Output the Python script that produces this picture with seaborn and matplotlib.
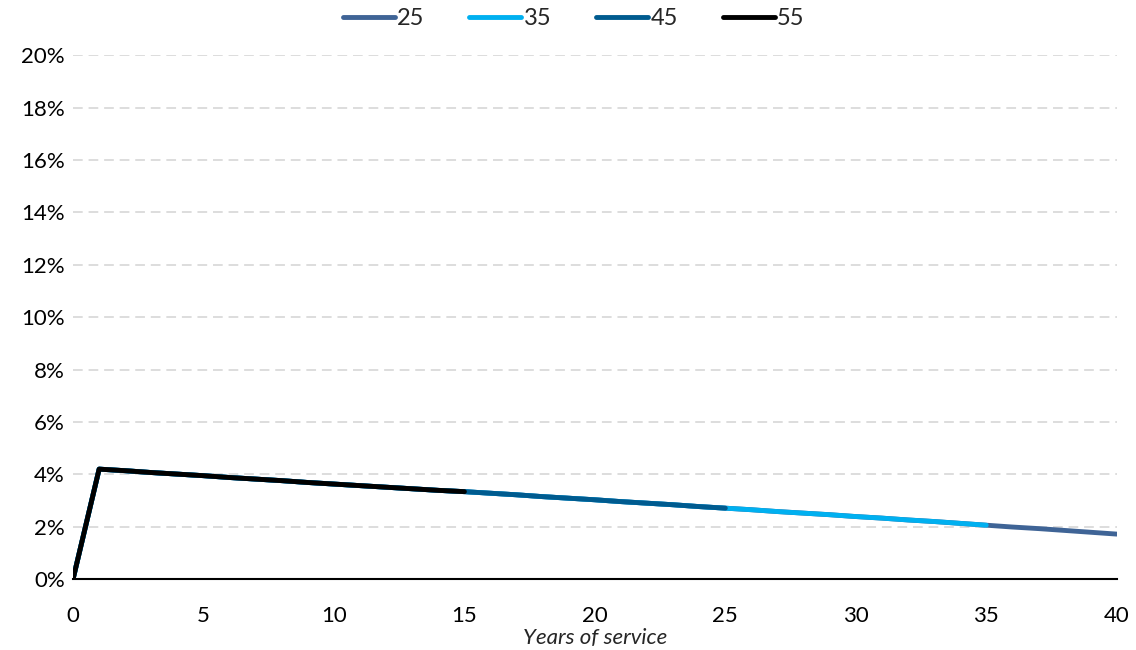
import matplotlib.pyplot as plt
import matplotlib.ticker as mtick
import pandas as pd
import seaborn as sns

# Years of service and the rate for each entry age
YEARS = list(range(0, 41))
RATE = [0.00, 4.20, 4.14, 4.07, 4.01, 3.95, 3.88, 3.82, 3.76, 3.69,
        3.63, 3.57, 3.51, 3.45, 3.39, 3.34, 3.28, 3.22, 3.15, 3.09,
        3.03, 2.96, 2.90, 2.84, 2.77, 2.71, 2.65, 2.58, 2.52, 2.46,
        2.39, 2.33, 2.26, 2.20, 2.13, 2.06, 1.99, 1.93, 1.86, 1.79, 1.72]
AGES = ['25', '35', '45', '55']
LAST_YEAR = [40, 35, 25, 15]
COLOURS = ['#3F6496', '#00B0F0', '#005B8F', '#000000']

rows = []
for age, last in zip(AGES, LAST_YEAR):
    for year, rate in zip(YEARS[:last + 1], RATE[:last + 1]):
        rows.append({'year': year, 'rate': rate / 100, 'age': age})
data = pd.DataFrame(rows)

sns.set_theme(style='white')
plt.rcParams['font.family'] = ['Lato', 'DejaVu Sans']

fig = plt.figure(figsize=(11.36, 6.5), dpi=100)
ax = fig.add_axes([0.0643, 0.109, 0.9187, 0.806])

sns.lineplot(data=data, x='year', y='rate', hue='age', hue_order=AGES,
             palette=COLOURS, linewidth=3.5, ax=ax)

ax.set_xlim(0, 40)
ax.set_ylim(0, 0.20)
ax.set_xticks(range(0, 41, 5))
ax.set_yticks([i / 100 for i in range(0, 21, 2)])
ax.yaxis.set_major_formatter(mtick.PercentFormatter(xmax=1, decimals=0))
ax.tick_params(axis='both', labelsize=16, length=0, colors='#000000')
ax.tick_params(axis='x', pad=19)
ax.tick_params(axis='y', pad=6)

for value in ax.get_yticks()[1:]:
    ax.axhline(value, color='#DDDDDD', linestyle=(0, (5, 3)), linewidth=1.4, zorder=0)

for side in ['left', 'right', 'top']:
    ax.spines[side].set_visible(False)
ax.spines['bottom'].set_color('#000000')
ax.spines['bottom'].set_linewidth(1.5)

ax.set_xlabel('Years of service', fontsize=16, style='italic', labelpad=2)
ax.set_ylabel('')

handles, labels = ax.get_legend_handles_labels()
ax.legend_.remove()
fig.legend(handles, labels, loc='upper center', bbox_to_anchor=(0.505, 1.02),
           ncol=4, frameon=False, fontsize=17, handlelength=2.2,
           handletextpad=0.1, columnspacing=1.9)

fig.savefig('out.png', dpi=100)
